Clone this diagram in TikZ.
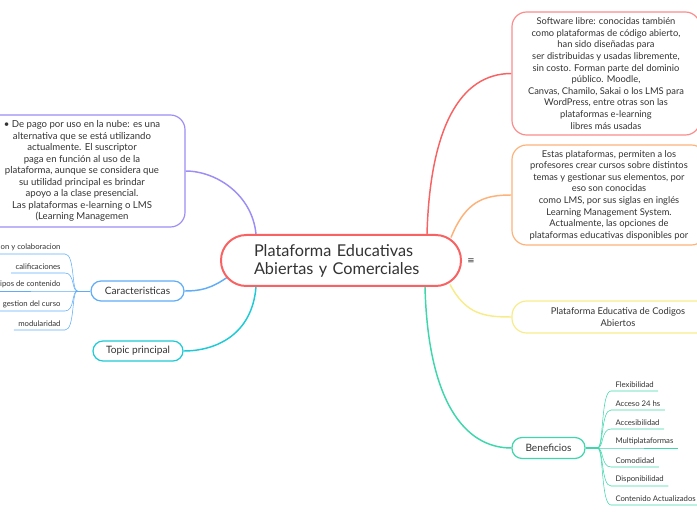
\documentclass[tikz,border=0pt]{standalone}
\usepackage{fontspec}
\setmainfont{Lato}
\newfontfamily\symfont{DejaVu Sans}
\usetikzlibrary{calc,backgrounds}

\definecolor{rootred}{RGB}{248,98,98}
\definecolor{softred}{RGB}{250,140,140}
\definecolor{softorange}{RGB}{253,178,122}
\definecolor{softyellow}{RGB}{248,236,138}
\definecolor{softgreen}{RGB}{62,214,170}
\definecolor{softcyan}{RGB}{30,202,214}
\definecolor{softblue}{RGB}{96,172,246}
\definecolor{softpurple}{RGB}{156,142,246}
\definecolor{textgray}{RGB}{51,51,51}

\tikzset{every picture/.style={line width=0.75pt}}
\tikzset{
  topicbox/.style={draw, fill=white, rounded corners=11pt, line width=0.9pt, align=center, inner sep=0pt, text=textgray, font=\fontsize{7}{8.7}\selectfont},
  labelbox/.style={draw, fill=white, rounded corners=7.5pt, line width=0.9pt, inner sep=0pt, text=textgray, font=\fontsize{7.6}{9}\selectfont},
  leaf/.style={inner xsep=3pt, inner ysep=2.2pt, text=textgray, font=\fontsize{5.8}{7}\selectfont},
  branch/.style={line width=1.1pt},
}

\begin{document}
\begin{tikzpicture}[x=0.75pt,y=0.75pt,yscale=-1,xscale=1]
\useasboundingbox (0,0) rectangle (697,520);

% Central Topic
\node [draw=rootred, fill=white, line width=1.5pt, rounded corners=19pt, minimum width=180pt, minimum height=38.25pt, inner sep=0pt, align=left, text width=130.5pt, text=textgray, font=\fontsize{12.2}{13.5}\selectfont] (root) at (341,260.5) {Plataforma Educativas\\Abiertas y Comerciales};
% Text Node
\node [text=textgray, font=\symfont\fontsize{6.5}{8}\selectfont, inner sep=0.75pt] (menu) at (471,261) {≡};

% Left Topics
\node [topicbox, draw=softpurple, minimum width=154.5pt, minimum height=84pt, font=\fontsize{7.2}{8.6}\selectfont] (pago) at (82,171) {• De pago por uso en la nube: es una\\alternativa que se está utilizando\\actualmente. El suscriptor\\paga en función al uso de la\\plataforma, aunque se considera que\\su utilidad principal es brindar\\apoyo a la clase presencial.\\Las plataformas e-learning o LMS\\(Learning Managemen};
\node [labelbox, draw=softblue, minimum width=69.75pt, minimum height=15pt] (carac) at (137.5,291) {Caracteristicas};
\node [labelbox, draw=softcyan, minimum width=67.5pt, minimum height=15pt] (topic) at (138,351) {Topic principal};

% Right Topics
\node [topicbox, draw=softred, minimum width=141pt, minimum height=92.25pt] (libre) at (606,73.5) {Software libre: conocidas también\\como plataformas de código abierto,\\han sido diseñadas para\\ser distribuidas y usadas libremente,\\sin costo. Forman parte del dominio\\público. Moodle,\\Canvas, Chamilo, Sakai o los LMS para\\WordPress, entre otras son las\\plataformas e-learning\\libres más usadas};
\node [topicbox, draw=softorange, minimum width=145.5pt, minimum height=75pt] (lms) at (609,195) {Estas plataformas, permiten a los\\profesores crear cursos sobre distintos\\temas y gestionar sus elementos, por\\eso son conocidas\\como LMS, por sus siglas en inglés\\Learning Management System.\\Actualmente, las opciones de\\plataformas educativas disponibles por};
\node [topicbox, draw=softyellow, minimum width=159pt, minimum height=24pt] (codigos) at (618,317) {Plataforma Educativa de Codigos\\Abiertos};
\node [labelbox, draw=softgreen, minimum width=54.75pt, minimum height=15.75pt] (benef) at (548.5,448) {Beneficios};

% Leaves of Caracteristicas
\node [leaf, anchor=south east] (comu) at (65,254) {on y colaboracion};
\node [leaf, anchor=south east] (calif) at (65,273) {calificaciones};
\node [leaf, anchor=south east] (tipos) at (65,291) {ipos de contenido};
\node [leaf, anchor=south east] (gest) at (65,311) {gestion del curso};
\node [leaf, anchor=south east] (modu) at (65,330) {modularidad};

% Leaves of Beneficios
\node [leaf, anchor=south west] (flex) at (611,391) {Flexibilidad};
\node [leaf, anchor=south west] (acceso) at (611,410) {Acceso 24 hs};
\node [leaf, anchor=south west] (accesib) at (611,429) {Accesibilidad};
\node [leaf, anchor=south west] (multi) at (611,448) {Multiplataformas};
\node [leaf, anchor=south west] (como) at (611,467) {Comodidad};
\node [leaf, anchor=south west] (dispo) at (611,486) {Disponibilidad};
\node [leaf, anchor=south west] (conte) at (611,505) {Contenido Actualizados};

\begin{scope}[on background layer]
%Curve Lines from central topic
\draw [branch, softpurple] ($(root.north)+(-85,0)$) .. controls ($(root.north)+(-89,-40)$) and ($(pago.east)+(30,0)$) .. (pago.east);
\draw [branch, softblue] ($(root.west)+(7,17)$) .. controls ($(root.west)+(-9,28)$) and ($(carac.east)+(16,0)$) .. (carac.east);
\draw [branch, softcyan] ($(root.south)+(-85,0)$) .. controls ($(root.south)+(-89,48)$) and ($(topic.east)+(32,0)$) .. (topic.east);
\draw [branch, rootred] ($(root.north)+(86,0)$) .. controls ($(root.north)+(89,-105)$) and ($(libre.west)+(-52,0)$) .. (libre.west);
\draw [branch, softorange] ($(root.east)+(-11,-23)$) .. controls ($(root.east)+(4,-60)$) and ($(lms.west)+(-27,0)$) .. (lms.west);
\draw [branch, softyellow] ($(root.east)+(-12,24)$) .. controls ($(root.east)+(4,54)$) and ($(codigos.west)+(-27,0)$) .. (codigos.west);
\draw [branch, softgreen] ($(root.south)+(84,0)$) .. controls ($(root.south)+(87,114)$) and ($(benef.west)+(-47,0)$) .. (benef.west);

%Curve Lines to leaves
\draw [softblue] (carac.west) -- ++(-13,0) coordinate (lfork);
\foreach \n in {comu,calif,tipos,gest,modu}
  \draw [softblue] (lfork) .. controls ($(lfork)+(-6,0)$) and ($(\n.south east)+(10,0)$) .. (\n.south east) -- (\n.south west);
\draw [softgreen, line width=1.1pt] (benef.east) -- ++(12,0) coordinate (rfork);
\foreach \n in {flex,acceso,accesib,multi,como,dispo,conte}
  \draw [softgreen] (rfork) .. controls ($(rfork)+(6,0)$) and ($(\n.south west)+(-10,0)$) .. (\n.south west) -- (\n.south east);
\end{scope}

\end{tikzpicture}
\end{document}
